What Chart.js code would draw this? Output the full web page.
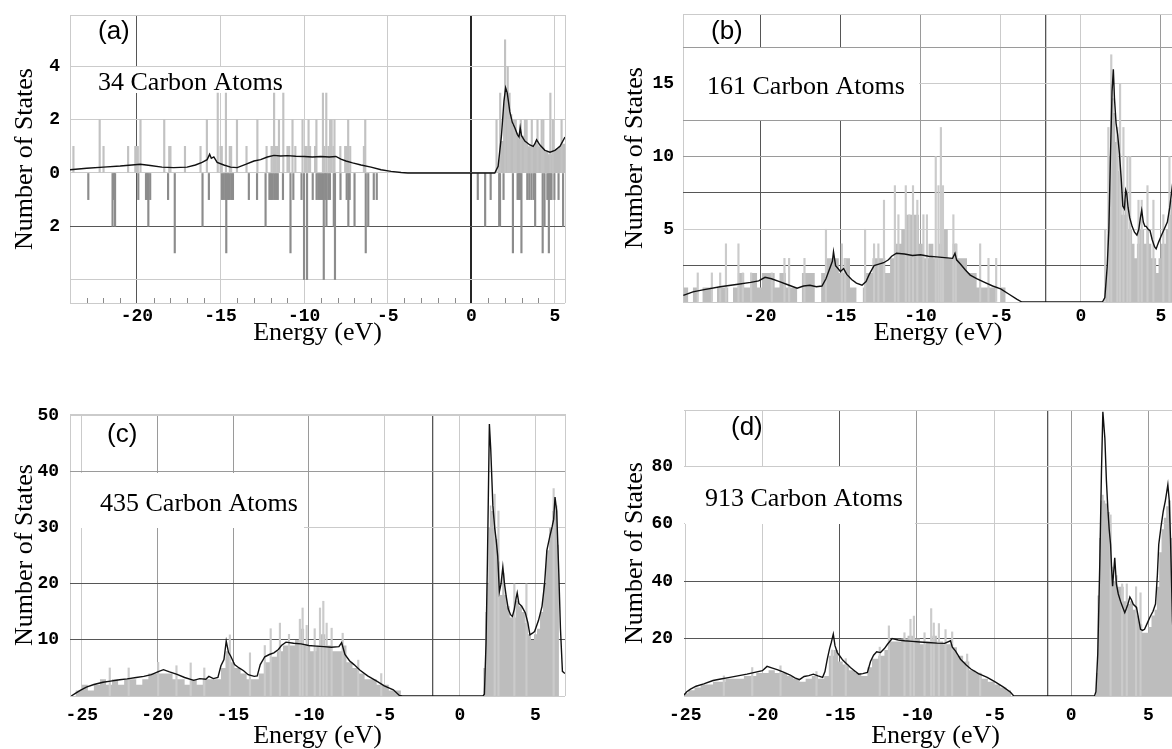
<!DOCTYPE html>
<html><head><meta charset="utf-8">
<script src="https://cdn.jsdelivr.net/npm/chart.js@4.4.1/dist/chart.umd.min.js"></script>
<style>
html,body{margin:0;padding:0;background:#fff;width:1172px;height:749px;overflow:hidden;position:relative}
canvas{position:absolute}
</style></head><body>
<canvas id="ca" width="580" height="347" style="left:0;top:0"></canvas>
<canvas id="cb" width="600" height="347" style="left:600px;top:0"></canvas>
<canvas id="cc" width="580" height="349" style="left:0;top:400px"></canvas>
<canvas id="cd" width="600" height="349" style="left:600px;top:400px"></canvas>
<script>
// ---------------- DATA ----------------
const panelTags = ['(a)', '(b)', '(c)', '(d)'];
const panelAtoms = ['34 Carbon Atoms', '161 Carbon Atoms', '435 Carbon Atoms', '913 Carbon Atoms'];
const xTitle = 'Energy (eV)';
const yTitle = 'Number of States';

// Panel (a)
const lineE_a = [-24,-23,-22,-21,-20.3,-19.8,-19.2,-18.5,-17.8,-17,-16.5,-16.1,-15.8,-15.65,-15.55,-15.4,-15.2,-14.8,-14.4,-14,-13.5,-13,-12.6,-12.2,-11.8,-11.4,-11,-10.5,-10,-9.5,-9,-8.5,-8.1,-7.8,-7.5,-7.1,-6.6,-6,-5.4,-4.8,-4.2,-3.8,0,1.4,1.6,1.8,1.95,2.05,2.15,2.3,2.45,2.6,2.75,2.85,2.92,3.0,3.2,3.5,3.7,3.8,3.9,4.1,4.4,4.7,5.0,5.3,5.6];
const lineY_a = [0.12,0.18,0.22,0.26,0.3,0.33,0.28,0.22,0.2,0.22,0.3,0.4,0.5,0.7,0.55,0.6,0.4,0.3,0.22,0.2,0.32,0.45,0.5,0.6,0.66,0.64,0.65,0.63,0.62,0.6,0.62,0.6,0.62,0.52,0.45,0.38,0.3,0.22,0.12,0.06,0.02,0,0,0,0.25,1.4,2.7,3.2,3.0,2.3,1.9,1.7,1.45,1.35,1.7,1.4,1.2,1.05,1.0,1.1,1.25,1.05,0.85,0.78,0.85,1.0,1.35];
const upE_a = [-23.75,-22.18,-21.95,-20.48,-20.05,-19.97,-19.9,-19.74,-18.32,-18.02,-17.95,-17.08,-16.15,-15.77,-15.12,-14.95,-14.88,-14.63,-14.4,-14.32,-13.97,-13.4,-12.75,-12.2,-11.9,-11.8,-11.75,-11.65,-11.55,-11.46,-11.2,-10.95,-10.85,-10.65,-10.48,-10.05,-9.9,-9.8,-9.69,-9.6,-9.3,-9.22,-8.83,-8.75,-8.63,-8.5,-8.4,-8.31,-8.2,-8.14,-7.79,-7.5,-7.4,-7.32,-7.2,-6.38,-6.3,
  1.55,1.77,2.06,2.22,2.33,2.6,2.7,3.0,3.25,3.35,3.66,4.0,4.25,4.35,4.77,4.92,5.44];
const upY_a = [1,2,1,1,1,1,1,2,2,1,1,1,1,2,3,1,1,3,1,1,2,1,2,1,1,1,3,1,1,2,3,1,1,2,1,2,1,1,2,1,1,2,3,1,3,1,2,2,1,2,1,1,1,2,1,1,2,
  2,3,5,4,3,2,2,2,2,2,2,2,2,2,3,2,2];
const dnE_a = [-22.95,-21.5,-21.42,-21.35,-19.96,-19.5,-19.42,-19.36,-19.25,-18.18,-17.78,-16.12,-15.74,-14.95,-14.85,-14.75,-14.7,-14.6,-14.5,-14.4,-14.3,-13.35,-12.86,-12.35,-12.12,-12.02,-11.92,-11.82,-11.72,-11.62,-11.31,-10.86,-10.69,-10.2,-10.05,-9.87,-9.53,-9.3,-9.2,-9.1,-8.98,-8.87,-8.78,-8.71,-8.6,-8.5,-8.27,-8.2,-7.87,-7.5,-7.4,-7.32,-7.03,-6.36,-6.21,-5.88,-5.7,
  0.34,0.78,1.11,1.62,1.67,1.88,2.44,2.72,2.8,2.88,2.95,3.3,3.42,3.55,3.68,3.77,4.22,4.33,4.5,4.59,4.68,4.75,4.92,5.17,5.44];
const dnY_a = [-1,-2,-1,-2,-1,-1,-1,-2,-1,-1,-3,-2,-1,-1,-1,-1,-3,-1,-1,-1,-1,-1,-1,-2,-1,-1,-1,-1,-1,-1,-1,-3,-1,-1,-4,-4,-1,-1,-1,-1,-1,-4,-1,-2,-1,-1,-2,-4,-1,-1,-2,-1,-2,-3,-2,-1,-1,
  -1,-2,-1,-2,-2,-1,-3,-1,-1,-1,-3,-1,-1,-1,-1,-2,-3,-2,-1,-3,-1,-1,-1,-1,-2];
const fillE_a = [1.6,1.75,1.9,2.0,2.15,2.3,2.45,2.6,2.8,3.0,3.2,3.4,3.6,3.8,4.0,4.2,4.4,4.6,4.8,5.0,5.2,5.4,5.6];
const fillY_a = [0.5,1.2,2.6,3.0,2.8,2.2,1.8,1.5,1.3,1.4,1.1,1.0,1.0,1.2,1.0,0.9,0.8,0.7,0.8,0.9,1.0,1.1,1.2];
const minorE_a = [-23,-22,-21,-19,-18,-17,-16,-14,-13,-12,-11,-9,-8,-7,-6,-4,-3,-2,-1,1,2,3,4];
const xTicks_a = [-24,-20,-15,-10,-5,0,5,5.6];
const xLabels_a = ['','-20','-15','-10','-5','0','5',''];
const yTicks_a = [-4.88,-4,-2,0,2,4,5.93];
const yLabels_a = ['','','2','0','2','4',''];

// Panel (b)
const lineE_b = [-24.8,-24.2,-23.5,-22.5,-21.5,-20.6,-20.1,-19.7,-19.3,-18.8,-18.2,-17.7,-17.3,-16.9,-16.5,-16.15,-15.9,-15.7,-15.5,-15.43,-15.3,-15.15,-15.0,-14.8,-14.6,-14.3,-14.0,-13.65,-13.4,-13.2,-12.9,-12.6,-12.3,-12.0,-11.8,-11.5,-11.0,-10.5,-10.0,-9.5,-9.0,-8.5,-8.0,-7.85,-7.75,-7.5,-7.2,-6.9,-6.5,-6.0,-5.5,-5.0,-4.5,-4.0,-3.68,1.35,1.5,1.65,1.75,1.85,1.95,2.03,2.1,2.2,2.3,2.41,2.52,2.62,2.72,2.8,2.86,2.95,3.05,3.2,3.35,3.5,3.62,3.72,3.8,3.9,4.0,4.08,4.2,4.32,4.45,4.6,4.7,4.85,5.0,5.2,5.4,5.55,5.7,5.9,6.2,6.6,7.0];
const lineY_b = [0.45,0.7,0.85,1.05,1.2,1.35,1.45,1.7,1.6,1.4,1.15,0.95,1.1,1.15,1.05,1.1,1.6,2.2,2.8,3.45,2.5,2.3,2.1,2.3,1.9,1.55,1.3,1.15,1.4,1.9,2.5,2.6,2.7,2.9,3.15,3.35,3.3,3.2,3.25,3.15,3.1,3.05,3.0,3.35,2.9,2.6,2.2,1.85,1.6,1.35,1.1,0.9,0.55,0.2,0,0,0.3,2.5,5.0,10.0,14.5,16.0,14.0,12.3,11.5,10.2,8.5,6.6,6.4,7.7,7.5,6.5,5.8,5.2,4.8,4.6,5.0,5.8,6.3,5.5,5.2,5.2,5.0,4.9,4.3,3.8,3.65,4.1,4.5,5.0,5.5,6.5,7.9,9.5,11.5,13.5,15.0];
const fillE_b = [-24.8,-24.5,-24.2,-23.9,-23.6,-23.3,-23.0,-22.7,-22.4,-22.0,-21.7,-21.4,-21.0,-20.6,-20.2,-19.9,-19.5,-19.1,-18.8,-18.4,-18.0,-17.7,-17.4,-17.0,-16.6,-16.2,-15.9,-15.5,-15.1,-14.8,-14.4,-14.0,-13.6,-13.4,-13.0,-12.6,-12.2,-11.9,-11.6,-11.2,-10.9,-10.5,-10.1,-9.8,-9.5,-9.2,-8.9,-8.6,-8.3,-8.0,-7.7,-7.4,-7.1,-6.8,-6.5,-6.2,-5.9,-5.6,-5.3,-5.0,-4.7,-4.4,
  1.45,1.55,1.65,1.75,1.85,1.95,2.05,2.15,2.25,2.35,2.45,2.55,2.65,2.75,2.85,2.95,3.05,3.2,3.35,3.5,3.65,3.8,3.95,4.1,4.25,4.4,4.55,4.7,4.85,5.0,5.15,5.3,5.45,5.6,5.75,6.0,6.5,7.0];
const fillY_b = [1,0,1,0,1,1,0,1,1,0,1,2,1,2,1,2,2,1,2,1,1,0,2,2,0,2,3,3,2,3,1,0,1,2,3,3,2,3,4,5,6,6,4,3,4,3,4,5,3,4,3,3,2,2,1,1,1,1,0,1,0,0,
  0,2,5,10,15,14,13,11,10,9,8,6,6,7,6,5,5,4,3,4,5,5,4,5,4,3,3,2,3,4,4,5,6,7,8,10,12,14];
const spkE_b = [-23.9,-23.02,-22.5,-22.14,-21.36,-21.09,-20.57,-19.28,-18.49,-18.2,-17.24,-15.9,-14.91,-14.7,-13.46,-12.9,-12.63,-12.28,-11.6,-11.38,-10.92,-10.7,-10.47,-10.2,-9.82,-9.6,-9.05,-8.88,-8.73,-8.6,-7.95,-7.8,-6.28,-5.76,-5.28,
  1.52,1.72,1.9,2.28,2.45,2.66,2.91,3.08,3.6,3.8,4.16,4.53,5.15,5.53];
const spkY_b = [2,2,2,4,4,2,2,2,3,3,3,5,4,3,5,4,4,7,8,6,8,6,8,7,6,6,10,8,12,8,6,4,4,3,3,
  5,12,17,12,15,12,10,10,7,7,8,7,6,10];
const xTicks_b = [-24.82,-20,-15,-10,-5,-2.18,0,5,7];
const xLabels_b = ['','-20','-15','-10','-5','','0','5',''];
const yTicks_b = [0,2.5,5,7.5,10,12.5,15,17.5,19.8];
const yLabels_b = ['','','5','','10','','15','',''];

// Panel (c)
const lineE_c = [-25.7,-25.4,-25.1,-24.7,-24.2,-23.6,-23.1,-22.5,-22.0,-21.4,-20.9,-20.4,-19.9,-19.6,-19.2,-18.7,-18.2,-17.6,-17.2,-16.8,-16.6,-16.3,-16.0,-15.8,-15.6,-15.45,-15.3,-15.15,-14.9,-14.6,-14.3,-14.0,-13.6,-13.4,-13.2,-12.9,-12.6,-12.3,-12.0,-11.8,-11.5,-11.0,-10.5,-10.0,-9.5,-9.0,-8.5,-8.0,-7.82,-7.6,-7.3,-7.0,-6.6,-6.1,-5.5,-5.0,-4.4,-4.0,-3.8,1.52,1.62,1.73,1.82,1.95,2.04,2.18,2.3,2.4,2.5,2.61,2.72,2.84,2.95,3.06,3.2,3.35,3.47,3.6,3.72,3.79,3.9,4.09,4.33,4.5,4.63,4.8,4.94,5.2,5.43,5.6,5.75,5.95,6.1,6.2,6.29,6.4,6.54,6.65,6.78,6.95];
const lineY_c = [0,0.5,1.0,1.6,2.05,2.45,2.65,2.9,3.05,3.3,3.5,3.8,4.4,4.7,4.3,3.85,3.3,2.8,3.1,3.0,3.5,3.1,3.3,5.4,6.5,9.8,7.8,7.1,5.6,5.0,4.5,3.8,3.5,3.6,5.6,7.0,7.4,7.7,8.3,9.0,9.6,9.4,9.3,9.0,8.9,8.8,8.7,8.8,9.5,7.4,6.3,5.6,4.6,3.6,2.65,1.8,1.1,0.1,0,0,0.3,9.5,24,48.5,44,34,30,27.8,25,18.6,20,23,20,17.8,15.5,14.5,14.2,15.5,17.5,18.4,16.5,16.0,14.8,13,10.9,11.2,11.5,13.5,16,20,26,28.5,30.2,31.5,35.5,33,22,12,4.4,4.0];
const fillE_c = [-25.7,-25.4,-25.0,-24.6,-24.2,-23.8,-23.4,-23.0,-22.6,-22.2,-21.8,-21.4,-21.0,-20.6,-20.2,-19.8,-19.4,-19.0,-18.6,-18.2,-17.8,-17.4,-17.0,-16.6,-16.2,-15.8,-15.5,-15.2,-14.9,-14.5,-14.1,-13.7,-13.3,-12.9,-12.5,-12.1,-11.7,-11.3,-10.9,-10.6,-10.3,-9.9,-9.5,-9.2,-8.9,-8.5,-8.1,-7.8,-7.5,-7.1,-6.7,-6.3,-5.9,-5.5,-5.1,-4.7,-4.3,-3.9,
  1.55,1.68,1.78,1.88,1.98,2.08,2.2,2.35,2.5,2.65,2.8,2.95,3.1,3.3,3.5,3.7,3.9,4.1,4.3,4.5,4.7,4.9,5.1,5.3,5.5,5.7,5.9,6.1,6.3,6.45,6.55];
const fillY_c = [0,1,2,1,2,3,2,3,2,3,3,2,3,4,4,4,4,3,3,2,3,2,3,3,3,5,8,6,5,4,3,3,4,6,7,8,9,9,10,12,9,8,9,11,9,8,8,9,6,5,4,3,3,2,2,1,1,0,
  5,15,20,30,34,33,30,28,24,18,22,18,16,14,14,17,16,15,13,11,10,11,12,15,20,26,30,33,34,27,0];
const spkE_c = [-23.15,-21.9,-19.95,-18.74,-17.8,-16.9,-15.21,-13.88,-12.9,-12.51,-11.9,-11.3,-10.58,-10.4,-10.13,-9.6,-9.25,-9.03,-8.81,-8.48,-7.75,-6.72,-5.2,2.3,2.55,3.6,4.4,6.2];
const spkY_c = [5,5,6,5.4,5.9,5,10.9,7.7,9,12,13,11,13.7,15.7,12.6,12,15.7,16.9,13,12.1,11.2,6.4,4,36,33,20,20,37];
const xTicks_c = [-25.78,-25,-20,-15,-10,-5,-1.79,0,5,6.95];
const xLabels_c = ['','-25','-20','-15','-10','-5','','0','5',''];
const yTicks_c = [0,10,20,30,40,50,50.3];
const yLabels_c = ['','10','20','30','40','50',''];

// Panel (d)
const lineE_d = [-25.08,-24.9,-24.66,-24.3,-23.8,-23.2,-22.7,-22.2,-21.6,-21.0,-20.5,-20.0,-19.7,-19.4,-19.0,-18.6,-18.2,-17.9,-17.6,-17.3,-17.0,-16.7,-16.4,-16.1,-15.95,-15.8,-15.65,-15.54,-15.41,-15.3,-15.15,-15.0,-14.8,-14.5,-14.3,-14.0,-13.76,-13.5,-13.2,-13.0,-12.8,-12.6,-12.35,-12.1,-11.9,-11.6,-11.2,-10.8,-10.3,-9.8,-9.3,-8.7,-8.2,-7.82,-7.7,-7.5,-7.17,-6.8,-6.5,-6.0,-5.44,-4.9,-4.36,-3.93,-3.72,1.51,1.6,1.72,1.85,1.96,2.05,2.18,2.28,2.37,2.46,2.55,2.62,2.68,2.75,2.82,2.93,3.05,3.19,3.33,3.47,3.58,3.67,3.8,3.9,4.02,4.23,4.36,4.49,4.62,4.75,4.9,5.09,5.3,5.46,5.58,5.67,5.82,5.96,6.1,6.26,6.35,6.43,6.56,6.7,7.0,7.5];
const lineY_d = [0.3,1.5,2.4,3.4,4.2,5.4,5.9,6.4,7.0,7.6,8.2,8.8,10.3,9.8,9.1,8.2,7.3,6.3,5.7,6.8,7.1,7.6,7.0,6.5,8.5,12.8,16.5,18.6,21.5,17.5,15.1,14.0,12.5,11.0,9.9,8.6,7.6,7.8,8.2,12.0,14.2,15.4,15.1,16.5,18.0,20.0,19.5,19.2,19.0,18.8,18.6,18.4,18.3,19.2,17.0,15.7,12.8,10.8,9.4,7.8,6.5,4.8,3.0,1.3,0,0,1.5,14.6,45.8,78.1,98.9,89.7,75,65.4,58,52.7,44,38.2,43,48.1,38.8,35.5,33.0,31,29.0,30.5,31.9,34.4,33.5,31.9,30.8,27,23.2,22.8,23.2,25,27.3,29.5,32,42,52.7,59,64.2,68,73.5,68,55,26.1,10,3,0];
const fillE_d = [-25.1,-24.8,-24.4,-24.0,-23.6,-23.2,-22.8,-22.4,-22.0,-21.6,-21.2,-20.8,-20.4,-20.0,-19.6,-19.2,-18.8,-18.4,-18.0,-17.6,-17.2,-16.8,-16.4,-16.0,-15.7,-15.4,-15.1,-14.8,-14.4,-14.0,-13.6,-13.2,-12.9,-12.5,-12.1,-11.8,-11.4,-11.0,-10.6,-10.2,-9.8,-9.4,-9.0,-8.7,-8.3,-8.0,-7.7,-7.4,-7.0,-6.6,-6.2,-5.8,-5.4,-5.0,-4.6,-4.2,-3.9,
  1.6,1.7,1.8,1.9,2.0,2.1,2.2,2.35,2.5,2.6,2.7,2.85,3.0,3.2,3.4,3.6,3.8,4.0,4.2,4.4,4.6,4.8,5.0,5.2,5.4,5.55,5.7,5.85,6.0,6.15,6.3,6.45,6.6];
const fillY_d = [1,2,3,4,4,5,5,6,6,6,7,7,8,8,9,8,8,7,6,5,6,7,6,7,14,16,12,11,9,8,7,10,13,14,16,19,19,20,21,20,18,19,21,19,18,18,17,14,12,9,8,6,5,4,3,2,0,
  8,35,55,68,70,68,67,64,60,45,40,42,38,38,33,32,33,30,28,25,22,22,24,28,30,38,50,58,62,66,68,55,0];
const spkE_d = [-22.5,-20.66,-18.83,-16.5,-15.5,-14.6,-12.4,-11.81,-10.8,-10.41,-10.19,-9.5,-9.07,-8.9,-8.57,-8.14,-7.71,-6.74,-5.9,2.55,3.3,3.6,4.49,4.2];
const spkY_d = [7,9.9,10.5,8.5,16,13,17,24.4,22,26.7,27.8,22,30.4,25.4,25.2,23.1,22.3,14.6,8,63,39,39,35.9,38];
const xTicks_d = [-25,-20,-15,-10,-5,-1.54,0,5,7.5];
const xLabels_d = ['-25','-20','-15','-10','-5','','0','5',''];
const yTicks_d = [0,20,40,60,80,99.5];
const yLabels_d = ['','20','40','60','80',''];

// ---------------- STYLE ----------------
const L = '#cbcbcb', M = '#9a9a9a', D = '#565656', F = '#262626';
const TICKFONT = {family: '"Liberation Mono", monospace', size: 18, weight: 'bold', lineHeight: 1};
const TITLEFONT = {family: '"Liberation Serif", serif', size: 26, lineHeight: 1};

function pts(E, Y) { return E.map((e, i) => ({x: e, y: Y[i]})); }

function lineDs(E, Y) {
  return {type: 'line', data: pts(E, Y), borderColor: '#111', borderWidth: 1.4, pointRadius: 0, tension: 0, fill: false, order: 0};
}
function fillDs(E, Y) {
  // each value is held from its energy up to the next energy
  return {type: 'line', data: pts(E, Y), stepped: 'before', borderWidth: 0, borderColor: 'rgba(0,0,0,0)', backgroundColor: '#bdbdbd', fill: 'origin', pointRadius: 0, order: 3};
}
function barDs(E, Y, color) {
  return {type: 'bar', data: pts(E, Y), backgroundColor: color, borderWidth: 0, barThickness: 1.5, order: 1};
}

function build(p, datasets) {
  const deco = {
    id: 'deco',
    beforeDatasetsDraw(chart) {
      const {ctx, scales: {x, y}, chartArea} = chart;
      ctx.save();
      const x0 = Math.round(x.getPixelForValue(p.box[0])) + 1;
      const x1 = Math.round(x.getPixelForValue(p.box[1]));
      const y0 = Math.round(y.getPixelForValue(p.box[3])) + 1;
      const y1 = Math.round(y.getPixelForValue(p.box[2]));
      ctx.fillStyle = '#fff';
      ctx.fillRect(x0, y0, x1 - x0, y1 - y0);
      if (p.minor) {
        ctx.strokeStyle = '#8a8a8a'; ctx.lineWidth = 1;
        p.minor.forEach(v => {
          const px = Math.round(x.getPixelForValue(v)) + 0.5;
          ctx.beginPath(); ctx.moveTo(px, chartArea.bottom); ctx.lineTo(px, chartArea.bottom - 5); ctx.stroke();
        });
      }
      ctx.restore();
    },
    afterDatasetsDraw(chart) {
      const ctx = chart.ctx;
      ctx.save();
      ctx.fillStyle = '#000'; ctx.textAlign = 'left'; ctx.textBaseline = 'alphabetic';
      ctx.font = '26px "Liberation Sans", sans-serif';
      ctx.fillText(p.tag, p.tagPos[0] - p.left, p.tagPos[1] - p.top + 7);
      ctx.font = '26px "Liberation Serif", serif';
      ctx.fillText(p.atoms, p.atomsPos[0] - p.left, p.atomsPos[1] - p.top + 9);
      ctx.restore();
    }
  };
  new Chart(document.getElementById(p.id), {
    type: 'bar',
    data: {datasets},
    options: {
      responsive: false, animation: false, devicePixelRatio: 1,
      layout: {padding: {top: p.padTop, right: p.padRight, left: 0, bottom: 0}},
      plugins: {legend: {display: false}, tooltip: {enabled: false}},
      scales: {
        x: {
          type: 'linear', min: p.xMin, max: p.xMax, offset: false,
          afterBuildTicks: s => { s.ticks = p.xTicks.map(v => ({value: v})); },
          afterFit: s => { s.height = p.xH; s.paddingLeft = 0; s.paddingRight = 0; },
          ticks: {autoSkip: false, maxRotation: 0, minRotation: 0, padding: p.xTickPad, color: '#000', font: TICKFONT,
                  callback: (v, i) => p.xLabels[i]},
          grid: {offset: false, drawTicks: false, color: c => p.xGrid[c.index], lineWidth: c => p.xGridW[c.index]},
          border: {display: false},
          title: {display: true, text: xTitle, color: '#000', font: TITLEFONT, padding: {top: 0, bottom: p.xTitlePad}}
        },
        y: {
          type: 'linear', min: p.yMin, max: p.yMax,
          afterBuildTicks: s => { s.ticks = p.yTicks.map(v => ({value: v})); },
          afterFit: s => { s.width = p.yW; s.paddingTop = 0; s.paddingBottom = 0; },
          ticks: {autoSkip: false, padding: p.yTickPad, color: '#000', font: TICKFONT,
                  callback: (v, i) => p.yLabels[i]},
          grid: {drawTicks: false, color: c => p.yGrid[c.index], lineWidth: 1},
          border: {display: false},
          title: {display: true, text: yTitle, color: '#000', font: TITLEFONT, padding: {top: p.yTitlePad, bottom: 0}}
        }
      }
    },
    plugins: [deco]
  });
}

build({id: 'ca', left: 0, top: 0, padTop: 15, padRight: 15, yW: 70, xH: 44,
  xMin: -24, xMax: 5.6, yMin: -4.88, yMax: 5.93,
  xTicks: xTicks_a, xLabels: xLabels_a, xGrid: [L, D, L, L, L, F, L, L], xGridW: [1, 1, 1, 1, 1, 2, 1, 1],
  yTicks: yTicks_a, yLabels: yLabels_a, yGrid: [L, L, D, L, L, L, L],
  xTickPad: 4, yTickPad: 10, yTitlePad: 12, xTitlePad: 1,
  box: [-24, -10.3, 3.0, 4.0], tag: panelTags[0], tagPos: [98, 32], atoms: panelAtoms[0], atomsPos: [98, 81], minor: minorE_a},
  [lineDs(lineE_a, lineY_a), barDs(upE_a, upY_a, '#c2c2c2'), barDs(dnE_a, dnY_a, '#8c8c8c'), fillDs(fillE_a, fillY_a)]);

build({id: 'cb', left: 600, top: 0, padTop: 14, padRight: 7, yW: 83, xH: 45,
  xMin: -24.82, xMax: 7, yMin: 0, yMax: 19.8,
  xTicks: xTicks_b, xLabels: xLabels_b, xGrid: [L, D, D, M, L, D, L, M, L], xGridW: [1, 1, 1, 1, 1, 1.3, 1, 1, 1],
  yTicks: yTicks_b, yLabels: yLabels_b, yGrid: [L, D, L, D, M, M, L, M, L],
  xTickPad: 5, yTickPad: 9, yTitlePad: 22, xTitlePad: 1,
  box: [-24.82, -10.1, 12.5, 17.5], tag: panelTags[1], tagPos: [711, 32], atoms: panelAtoms[1], atomsPos: [707, 85]},
  [lineDs(lineE_b, lineY_b), barDs(spkE_b, spkY_b, '#cbcbcb'), fillDs(fillE_b, fillY_b)]);

build({id: 'cc', left: 0, top: 400, padTop: 14, padRight: 15, yW: 70, xH: 53,
  xMin: -25.78, xMax: 6.95, yMin: 0, yMax: 50.3,
  xTicks: xTicks_c, xLabels: xLabels_c, xGrid: [L, L, M, M, M, L, D, L, L, L], xGridW: [1, 1, 1, 1, 1, 1, 1.3, 1, 1, 1],
  yTicks: yTicks_c, yLabels: yLabels_c, yGrid: [L, D, D, L, M, L, L],
  xTickPad: 10, yTickPad: 11, yTitlePad: 12, xTitlePad: 0,
  box: [-25.78, -10.3, 30, 40], tag: panelTags[2], tagPos: [107, 435], atoms: panelAtoms[2], atomsPos: [100, 502]},
  [lineDs(lineE_c, lineY_c), barDs(spkE_c, spkY_c, '#cbcbcb'), fillDs(fillE_c, fillY_c)]);

build({id: 'cd', left: 600, top: 400, padTop: 10, padRight: 13, yW: 84, xH: 53,
  xMin: -25.08, xMax: 7.5, yMin: 0, yMax: 99.5,
  xTicks: xTicks_d, xLabels: xLabels_d, xGrid: [L, L, D, M, L, D, M, M, L], xGridW: [1, 1, 1, 1, 1, 1.3, 1, 1, 1],
  yTicks: yTicks_d, yLabels: yLabels_d, yGrid: [L, D, D, L, L, L],
  xTickPad: 10, yTickPad: 11, yTitlePad: 22, xTitlePad: 0,
  box: [-25.08, -10.1, 60, 80], tag: panelTags[3], tagPos: [731, 428], atoms: panelAtoms[3], atomsPos: [705, 497]},
  [lineDs(lineE_d, lineY_d), barDs(spkE_d, spkY_d, '#cbcbcb'), fillDs(fillE_d, fillY_d)]);
</script>
</body></html>
